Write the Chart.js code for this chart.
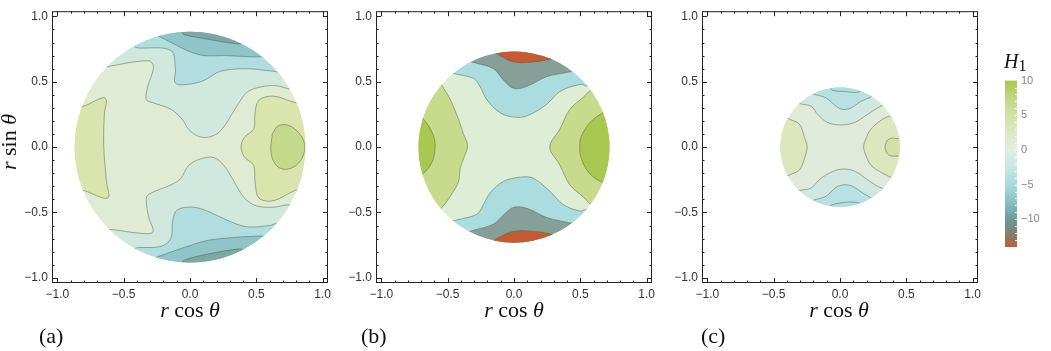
<!DOCTYPE html>
<html>
<head>
<meta charset="utf-8">
<script src="https://cdn.jsdelivr.net/npm/chart.js@4.4.1/dist/chart.umd.min.js"></script>
<style>
  body { margin: 0; background: #fff; width: 1051px; height: 351px; position: relative; overflow: hidden; }
  canvas { position: absolute; }
  .t { position: absolute; font-family: 'Liberation Serif', serif; font-size: 22px; line-height: 1; white-space: nowrap; color: #111; }
</style>
</head>
<body>
<canvas id="pa" width="334" height="351" style="left:2px;top:0"></canvas>
<canvas id="pb" width="334" height="351" style="left:326px;top:0"></canvas>
<canvas id="pc" width="334" height="351" style="left:652px;top:0"></canvas>
<canvas id="cb" width="56" height="190" style="left:995px;top:70px"></canvas>

<div class="t" style="left:9px;top:142px;transform:translate(-50%,-50%) rotate(-90deg)"><i>r</i> sin <i>θ</i></div>
<div class="t" style="left:190px;top:299px;transform:translateX(-50%)"><i>r</i> cos <i>θ</i></div>
<div class="t" style="left:514px;top:299px;transform:translateX(-50%)"><i>r</i> cos <i>θ</i></div>
<div class="t" style="left:839px;top:299px;transform:translateX(-50%)"><i>r</i> cos <i>θ</i></div>
<div class="t" style="left:39px;top:325px">(a)</div>
<div class="t" style="left:361px;top:325px">(b)</div>
<div class="t" style="left:701px;top:325px">(c)</div>
<div class="t" style="left:1004px;top:51px;font-size:20px"><i>H</i><span style="font-size:16px;position:relative;top:3px">1</span></div>

<script>
// axis ticks
const tickValues = [-1, -0.5, 0, 0.5, 1];
const axisMin = -1.04, axisMax = 1.04;

// disk radius of each panel
const radii = [0.87, 0.72, 0.45];

// colour bar
const barRange = [-14, 10];
const barTicks = [10, 5, 0, -5, -10];
const barStops = [[10, '#a8c84e'], [7.5, '#c0d683'], [5, '#d2e2a6'], [2.5, '#dce9c6'], [0, '#e1eee0'],
  [-2.5, '#c9e7e4'], [-5, '#a9dade'], [-7.5, '#88c0c4'], [-10, '#6e9a9a'], [-12, '#7b8176'], [-14, '#c85a35']];

// ---- panel (a) contour lines ----
const aTop1 = [[-0.66, 0.60], [-0.60, 0.62], [-0.31, 0.66], [-0.275, 0.61], [-0.315, 0.475], [-0.33, 0.365], [-0.28, 0.34],
  [-0.145, 0.29], [-0.06, 0.215], [-0.01, 0.135], [0.07, 0.08], [0.155, 0.08], [0.23, 0.125], [0.30, 0.225],
  [0.37, 0.34], [0.43, 0.42], [0.53, 0.46], [0.65, 0.47], [0.78, 0.45]];
const aTop2 = [[-0.42, 0.77], [-0.40, 0.76], [-0.145, 0.74], [-0.11, 0.60], [-0.11, 0.49], [-0.02, 0.48], [0.105, 0.51],
  [0.23, 0.58], [0.43, 0.60], [0.63, 0.58], [0.68, 0.58]];
const aTop3 = [[-0.24, 0.85], [-0.22, 0.84], [0.055, 0.71], [0.28, 0.70], [0.53, 0.69], [0.56, 0.70]];
const aTop4 = [[-0.06, 0.88], [-0.045, 0.86], [0.08, 0.835], [0.356, 0.79], [0.40, 0.80]];
const aBot1 = [[-0.63, -0.64], [-0.60, -0.63], [-0.37, -0.66], [-0.28, -0.65], [-0.31, -0.54], [-0.33, -0.40], [-0.31, -0.36],
  [-0.145, -0.29], [-0.07, -0.24], [-0.01, -0.14], [0.08, -0.09], [0.18, -0.08], [0.255, -0.14], [0.33, -0.26],
  [0.41, -0.39], [0.50, -0.45], [0.62, -0.46], [0.78, -0.45]];
const aBot2 = [[-0.42, -0.78], [-0.40, -0.77], [-0.22, -0.76], [-0.145, -0.70], [-0.13, -0.56], [-0.095, -0.48], [0.03, -0.46],
  [0.155, -0.50], [0.28, -0.56], [0.43, -0.61], [0.60, -0.60], [0.66, -0.59]];
const aBot3 = [[-0.27, -0.85], [-0.245, -0.84], [-0.02, -0.76], [0.155, -0.71], [0.53, -0.68], [0.56, -0.69]];
const aBot4 = [[-0.06, -0.88], [-0.045, -0.865], [0.08, -0.83], [0.356, -0.78], [0.40, -0.79]];
const aLeft = [[-0.84, 0.32], [-0.81, 0.31], [-0.65, 0.38], [-0.63, 0.35], [-0.645, 0.26], [-0.65, 0], [-0.63, -0.26],
  [-0.62, -0.39], [-0.81, -0.33], [-0.84, -0.34]];
const aRight = [[0.82, 0.35], [0.795, 0.34], [0.63, 0.39], [0.52, 0.36], [0.49, 0.26], [0.48, 0.14], [0.41, 0.075], [0.385, 0],
  [0.41, -0.075], [0.48, -0.14], [0.49, -0.26], [0.52, -0.39], [0.63, -0.41], [0.795, -0.33], [0.82, -0.34]];
const aPeak = [[0.62, 0.10], [0.66, 0.16], [0.73, 0.17], [0.80, 0.13], [0.86, 0.04], [0.855, -0.06], [0.80, -0.14],
  [0.72, -0.17], [0.65, -0.14], [0.61, -0.04], [0.62, 0.10]];

// ---- panel (b) ----
const bTop1 = [[-0.49, 0.58], [-0.456, 0.564], [-0.306, 0.526], [-0.256, 0.464], [-0.205, 0.363], [-0.105, 0.263], [-0.005, 0.23],
  [0.095, 0.238], [0.245, 0.326], [0.346, 0.426], [0.50, 0.48], [0.56, 0.47]];
const bTop2 = [[-0.34, 0.66], [-0.318, 0.652], [-0.155, 0.60], [-0.08, 0.514], [-0.005, 0.45], [0.095, 0.464], [0.245, 0.539],
  [0.42, 0.576], [0.45, 0.59]];
const bTop3 = [[-0.16, 0.73], [-0.13, 0.714], [-0.005, 0.652], [0.145, 0.652], [0.296, 0.677], [0.32, 0.69]];
const bBot1 = [[-0.49, -0.58], [-0.456, -0.564], [-0.28, -0.514], [-0.23, -0.439], [-0.18, -0.35], [-0.08, -0.263], [0.045, -0.23],
  [0.145, -0.238], [0.27, -0.338], [0.37, -0.439], [0.496, -0.489], [0.56, -0.48]];
const bBot2 = [[-0.34, -0.65], [-0.318, -0.64], [-0.155, -0.59], [-0.07, -0.51], [0.0, -0.46], [0.10, -0.47], [0.25, -0.54],
  [0.42, -0.58], [0.45, -0.59]];
const bBot3 = [[-0.16, -0.72], [-0.13, -0.70], [-0.005, -0.645], [0.145, -0.645], [0.296, -0.67], [0.32, -0.69]];
const bLeft = [[-0.56, 0.50], [-0.50, 0.40], [-0.468, 0.338], [-0.418, 0.213], [-0.381, 0.10], [-0.35, 0.012], [-0.381, -0.09],
  [-0.406, -0.163], [-0.418, -0.263], [-0.47, -0.36], [-0.56, -0.48]];
const bLeftPeak = [[-0.72, 0.24], [-0.694, 0.226], [-0.644, 0.163], [-0.607, 0.088], [-0.594, 0.015], [-0.607, -0.085],
  [-0.644, -0.16], [-0.694, -0.21], [-0.72, -0.23]];
const bRight = [[0.60, 0.46], [0.52, 0.38], [0.42, 0.288], [0.346, 0.138], [0.27, 0], [0.346, -0.138], [0.42, -0.288],
  [0.52, -0.38], [0.60, -0.46]];
const bRightPeak = [[0.70, 0.28], [0.67, 0.263], [0.594, 0.21], [0.534, 0.135], [0.50, 0.06], [0.496, 0], [0.50, -0.06],
  [0.534, -0.15], [0.594, -0.226], [0.684, -0.278], [0.71, -0.29]];

// ---- panel (c) ----
const cTop1 = [[-0.33, 0.35], [-0.306, 0.333], [-0.218, 0.313], [-0.168, 0.25], [-0.093, 0.188], [0.0075, 0.17], [0.108, 0.188],
  [0.208, 0.25], [0.283, 0.30], [0.333, 0.326], [0.35, 0.34]];
const cTop2 = [[-0.22, 0.42], [-0.205, 0.408], [-0.105, 0.376], [-0.03, 0.313], [0.02, 0.288], [0.083, 0.30], [0.158, 0.35],
  [0.233, 0.383], [0.25, 0.40]];
const cTop3 = [[-0.08, 0.46], [-0.055, 0.434], [0.04, 0.425], [0.133, 0.419], [0.16, 0.44]];
const cBot1 = [[-0.33, -0.35], [-0.306, -0.333], [-0.218, -0.313], [-0.143, -0.238], [-0.055, -0.188], [0.02, -0.168],
  [0.108, -0.183], [0.208, -0.25], [0.283, -0.30], [0.346, -0.326], [0.36, -0.34]];
const cBot2 = [[-0.22, -0.42], [-0.205, -0.408], [-0.105, -0.376], [-0.03, -0.308], [0.033, -0.288], [0.095, -0.30],
  [0.17, -0.35], [0.233, -0.388], [0.25, -0.40]];
const cBot3 = [[-0.08, -0.46], [-0.068, -0.445], [0.0075, -0.426], [0.095, -0.421], [0.16, -0.44]];
const cLeft = [[-0.42, 0.235], [-0.38, 0.213], [-0.306, 0.175], [-0.268, 0.075], [-0.248, 0], [-0.268, -0.088],
  [-0.306, -0.175], [-0.38, -0.213], [-0.42, -0.235]];
const cRight = [[0.38, 0.24], [0.32, 0.213], [0.233, 0.138], [0.195, 0.063], [0.178, 0], [0.195, -0.063], [0.233, -0.138],
  [0.32, -0.2], [0.38, -0.23]];
const cRightPeak = [[0.47, 0.065], [0.458, 0.063], [0.37, 0.063], [0.34, 0], [0.37, -0.063], [0.458, -0.068], [0.47, -0.07]];

// close an open contour outside the disk so the band can be filled (the disk clip hides the outside part)
function closeShape(pts, side) {
  if (side === 'loop') return pts;
  const a = pts[0], b = pts[pts.length - 1];
  const far = 1.6;
  const out = p => [p[0] * 1.8, p[1] * 1.8];
  const corners = {
    top: [[far, far], [-far, far]],
    bottom: [[far, -far], [-far, -far]],
    left: [[-far, -far], [-far, far]],
    right: [[far, -far], [far, far]]
  }[side];
  return [...pts, out(b), ...corners, out(a)];
}

const fmt = v => (v < 0 ? '\u2212' : '') + Math.abs(v).toFixed(1);

const diskPlugin = {
  id: 'disk',
  beforeDatasetsDraw(chart, args, opts) {
    const { ctx, scales: { x, y } } = chart;
    const cx = x.getPixelForValue(0), cy = y.getPixelForValue(0);
    const r = x.getPixelForValue(opts.radius) - cx;
    ctx.save();
    ctx.beginPath();
    ctx.arc(cx, cy, r, 0, Math.PI * 2);
    ctx.fillStyle = opts.base;
    ctx.fill();
    ctx.clip();
  },
  afterDatasetsDraw(chart) {
    chart.ctx.restore();
  },
  afterDraw(chart) {
    const { ctx, chartArea: a, scales: { x, y } } = chart;
    ctx.save();
    ctx.strokeStyle = '#222';
    ctx.lineWidth = 1;
    ctx.strokeRect(a.left + 0.5, a.top + 0.5, a.width - 1, a.height - 1);
    ctx.beginPath();
    for (let i = -10; i <= 10; i++) {
      const len = i % 5 === 0 ? 5 : 2.5;
      const px = Math.round(x.getPixelForValue(i / 10)) + 0.5;
      const py = Math.round(y.getPixelForValue(i / 10)) + 0.5;
      ctx.moveTo(px, a.bottom); ctx.lineTo(px, a.bottom - len);
      ctx.moveTo(px, a.top); ctx.lineTo(px, a.top + len);
      ctx.moveTo(a.left, py); ctx.lineTo(a.left + len, py);
      ctx.moveTo(a.right, py); ctx.lineTo(a.right - len, py);
    }
    ctx.stroke();
    ctx.restore();
  }
};

function panel(id, radius, base, regions) {
  const datasets = regions.map((r, i) => ({
    data: closeShape(r[0], r[1]).map(p => ({ x: p[0], y: p[1] })),
    backgroundColor: r[2],
    borderColor: r[3] || 'rgba(80,90,62,0.6)',
    borderWidth: 0.8,
    fill: 'shape',
    tension: 0.35,
    pointRadius: 0,
    order: regions.length - i
  }));
  const tickOpts = { font: { family: 'Liberation Sans', size: 12 }, color: '#333', autoSkip: false, maxRotation: 0, callback: fmt };
  new Chart(document.getElementById(id), {
    type: 'line',
    data: { datasets },
    options: {
      responsive: false,
      animation: false,
      layout: { padding: { top: 7, right: 8, left: 0, bottom: 0 } },
      plugins: { legend: { display: false }, tooltip: { enabled: false }, disk: { radius, base } },
      scales: {
        x: {
          type: 'linear', min: axisMin, max: axisMax,
          afterBuildTicks: s => { s.ticks = tickValues.map(v => ({ value: v })); },
          afterFit: s => { s.height = 68; },
          grid: { display: false, drawTicks: false }, border: { display: false },
          ticks: { ...tickOpts, padding: 4 }
        },
        y: {
          type: 'linear', min: axisMin, max: axisMax,
          afterBuildTicks: s => { s.ticks = tickValues.map(v => ({ value: v })); },
          afterFit: s => { s.width = 50; },
          grid: { display: false, drawTicks: false }, border: { display: false },
          ticks: { ...tickOpts, padding: 4 }
        }
      }
    },
    plugins: [diskPlugin]
  });
}

panel('pa', radii[0], '#dfebd3', [
  [aTop1, 'top', '#d1e8df'], [aTop2, 'top', '#b2dde0'], [aTop3, 'top', '#8fc5c9'], [aTop4, 'top', '#7ea6a4'],
  [aBot1, 'bottom', '#d1e8df'], [aBot2, 'bottom', '#b2dde0'], [aBot3, 'bottom', '#8fc5c9'], [aBot4, 'bottom', '#7ea6a4'],
  [aLeft, 'left', '#d9e5ad'], [aRight, 'right', '#d9e5ad'], [aPeak, 'loop', '#c3d98c']
]);

panel('pb', radii[1], '#deedd6', [
  [bTop1, 'top', '#abdce0'], [bTop2, 'top', '#879f99'], [bTop3, 'top', '#c55b35'],
  [bBot1, 'bottom', '#abdce0'], [bBot2, 'bottom', '#879f99'], [bBot3, 'bottom', '#c55b35'],
  [bLeft, 'left', '#c8db8c'], [bRight, 'right', '#c8db8c'],
  [bLeftPeak, 'left', '#a9c851'], [bRightPeak, 'right', '#a9c851']
]);

panel('pc', radii[2], '#dfeada', [
  [cTop1, 'top', '#d0e8e1'], [cTop2, 'top', '#b9e1e3'], [cTop3, 'top', '#afdde0'],
  [cBot1, 'bottom', '#d0e8e1'], [cBot2, 'bottom', '#b9e1e3'], [cBot3, 'bottom', '#afdde0'],
  [cLeft, 'left', '#dce6bf'], [cRight, 'right', '#dce6bf'], [cRightPeak, 'right', '#d3e0a8']
]);

// colour bar
function barGradient(chart) {
  const { ctx, chartArea, scales } = chart;
  if (!chartArea) return null;
  const y = scales.y;
  const g = ctx.createLinearGradient(0, y.getPixelForValue(barRange[1]), 0, y.getPixelForValue(barRange[0]));
  barStops.forEach(([v, c]) => g.addColorStop((barRange[1] - v) / (barRange[1] - barRange[0]), c));
  return g;
}

const barDashes = {
  id: 'barDashes',
  afterDatasetsDraw(chart) {
    const { ctx, chartArea: a, scales: { y } } = chart;
    ctx.save();
    ctx.strokeStyle = 'rgba(255,255,255,0.9)';
    ctx.lineWidth = 1;
    ctx.beginPath();
    for (let v = barRange[0] + 1; v < barRange[1]; v++) {
      const py = Math.round(y.getPixelForValue(v)) + 0.5;
      ctx.moveTo(a.right - 2, py); ctx.lineTo(a.right, py);
    }
    ctx.stroke();
    ctx.restore();
  }
};

new Chart(document.getElementById('cb'), {
  type: 'bar',
  data: {
    labels: ['H1'],
    datasets: [{
      data: [barRange],
      backgroundColor: c => barGradient(c.chart),
      barPercentage: 1, categoryPercentage: 1, borderWidth: 0
    }]
  },
  options: {
    responsive: false,
    animation: false,
    layout: { padding: { left: 10, top: 10, bottom: 13, right: 0 } },
    plugins: { legend: { display: false }, tooltip: { enabled: false } },
    scales: {
      x: { display: false },
      y: {
        position: 'right', min: barRange[0], max: barRange[1],
        afterBuildTicks: s => { s.ticks = barTicks.map(v => ({ value: v })); },
        afterFit: s => { s.width = 34; },
        grid: { display: false, drawTicks: false }, border: { display: false },
        ticks: { color: '#888', font: { family: 'Liberation Sans', size: 11 }, padding: 4, autoSkip: false,
          callback: v => (v < 0 ? '\u2212' : '') + Math.abs(v) }
      }
    }
  },
  plugins: [barDashes]
});
</script>
</body>
</html>
